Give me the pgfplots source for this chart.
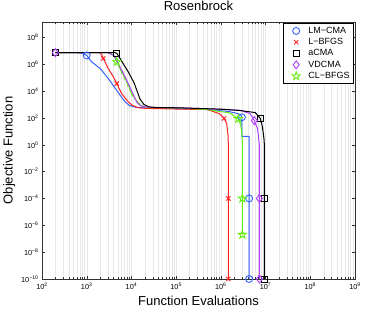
\documentclass[border=0pt]{standalone}
\usepackage{pgfplots}
\pgfplotsset{compat=1.18}
\usepackage{fontspec}
\setmainfont{Liberation Sans}
\definecolor{cblue}{HTML}{3060FF}
\definecolor{cred}{HTML}{FF2020}
\definecolor{cgreen}{HTML}{66EE11}
\definecolor{cpurple}{HTML}{B040FF}
\pgfdeclareplotmark{pentagram}{%
  \pgfpathmoveto{\pgfpointpolar{90}{\pgfplotmarksize}}%
  \pgfpathlineto{\pgfpointpolar{126}{0.40\pgfplotmarksize}}%
  \pgfpathlineto{\pgfpointpolar{162}{\pgfplotmarksize}}%
  \pgfpathlineto{\pgfpointpolar{198}{0.40\pgfplotmarksize}}%
  \pgfpathlineto{\pgfpointpolar{234}{\pgfplotmarksize}}%
  \pgfpathlineto{\pgfpointpolar{270}{0.40\pgfplotmarksize}}%
  \pgfpathlineto{\pgfpointpolar{306}{\pgfplotmarksize}}%
  \pgfpathlineto{\pgfpointpolar{342}{0.40\pgfplotmarksize}}%
  \pgfpathlineto{\pgfpointpolar{18}{\pgfplotmarksize}}%
  \pgfpathlineto{\pgfpointpolar{54}{0.40\pgfplotmarksize}}%
  \pgfpathclose\pgfusepathqstroke}

\pgfplotstableread{
x y
200 7.2e6
600 7.2e6
800 6.5e6
1000 4.5e6
1290 1.5e6
2000 4.8e5
3030 8.7e4
4700 1.1e4
7200 1580
9000 850
12500 620
2e4 560
1e5 500
5e5 420
1.5e6 300
2.4e6 210
2.8e6 160
2.95e6 112
2.95e6 4.3
4.28e6 4.3
4.28e6 1e-10
}\lmcma
\pgfplotstableread{
x y
200 7.2e6
1900 7.2e6
2150 5.5e6
2350 2.7e6
3030 4.8e5
3950 1.15e5
4700 3.6e4
6050 6500
8500 1580
10500 850
14000 580
2e4 520
1e5 460
5.1e5 420
9.5e5 200
1.18e6 93
1.35e6 38
1.45e6 4.8
1.47e6 1
1.47e6 1e-10
}\lbfgs
\pgfplotstableread{
x y
200 7.2e6
4300 7.2e6
4700 6.6e6
5560 2.7e6
8500 2.7e5
11500 4e4
15500 2600
19000 1000
24000 680
35000 590
1e5 570
1e6 450
2.7e6 355
5.9e6 250
7.6e6 93
8.5e6 22
9.2e6 3
9.4e6 1
9.4e6 1e-10
}\acma
\pgfplotstableread{
x y
200 7.2e6
3000 7.2e6
4200 4e6
5100 1.1e6
7200 1.15e5
10000 1.1e4
13200 1480
16000 800
22000 640
4e4 600
1e5 580
1e6 440
2.7e6 370
4.5e6 210
5.6e6 63
6.6e6 16
7.1e6 2
7.27e6 1
7.27e6 1e-10
}\vdcma
\pgfplotstableread{
x y
200 7.2e6
3100 7.2e6
4000 5e6
4700 1.5e6
5560 4.8e5
6100 2.2e5
6300 2.8e5
7000 8e4
7300 1.0e5
8300 2.5e4
8600 3.0e4
9300 1.1e4
10500 4500
10800 5200
12000 2700
16000 900
22000 600
1e5 560
5e5 420
1.58e6 235
2.45e6 85
2.8e6 27
3.0e6 4
3.03e6 1
3.03e6 2e-7
}\clbfgs

\begin{document}
\begin{tikzpicture}
\path[use as bounding box] (-42pt,-31pt) rectangle (323pt,279pt);
\begin{axis}[
  at={(0,0)}, anchor=south west,
  scale only axis, width=313pt, height=257pt,
  xmode=log, ymode=log,
  xmin=100, xmax=1e9, ymin=1e-10, ymax=1.4e9,
  clip=false,
  xtick={1e2,1e3,1e4,1e5,1e6,1e7,1e8,1e9},
  xticklabels={10\textsuperscript{2},10\textsuperscript{3},10\textsuperscript{4},10\textsuperscript{5},10\textsuperscript{6},10\textsuperscript{7},10\textsuperscript{8},10\textsuperscript{9}},
  minor xtick={200,300,400,500,600,700,800,900,2000,3000,4000,5000,6000,7000,8000,9000,2e4,3e4,4e4,5e4,6e4,7e4,8e4,9e4,2e5,3e5,4e5,5e5,6e5,7e5,8e5,9e5,2e6,3e6,4e6,5e6,6e6,7e6,8e6,9e6,2e7,3e7,4e7,5e7,6e7,7e7,8e7,9e7,2e8,3e8,4e8,5e8,6e8,7e8,8e8,9e8},
  ytick={1e-10,1e-8,1e-6,1e-4,1e-2,1,1e2,1e4,1e6,1e8},
  yticklabels={10\textsuperscript{−10},10\textsuperscript{−8},10\textsuperscript{−6},10\textsuperscript{−4},10\textsuperscript{−2},10\textsuperscript{0},10\textsuperscript{2},10\textsuperscript{4},10\textsuperscript{6},10\textsuperscript{8}},
  minor ytick={},
  xmajorgrids, xminorgrids,
  major grid style={black!9, line width=0.4pt},
  minor grid style={black!9, line width=0.4pt},
  tick align=inside,
  major tick length=3pt, minor tick length=2pt,
  tick style={black!80, line width=0.4pt},
  axis line style={black!80, line width=0.5pt},
  tick label style={font=\fontsize{7.3}{9}\selectfont},
  title={Rosenbrock},
  title style={font=\fontsize{13}{15}\selectfont, at={(axis description cs:0.5,1.0214)}, anchor=base},
  xlabel={Function Evaluations},
  xlabel style={font=\fontsize{13}{15}\selectfont, at={(axis description cs:0.5,-0.103)}, anchor=base},
  ylabel={Objective Function},
  ylabel style={font=\fontsize{13}{15}\selectfont, at={(axis description cs:-0.094,0.5)}, anchor=base},
  legend style={at={(axis description cs:0.9946,0.9949)}, anchor=north east, draw=black, line width=0.5pt, font=\fontsize{9}{11}\selectfont, inner sep=1.5pt, row sep=-0.5pt},
  legend cell align=left,
  legend image code/.code={\path (0cm,0cm) (0.74cm,0cm); \draw[#1] plot coordinates {(0.40cm,0cm)};},
]
\addplot[cblue, line width=1pt, forget plot] table {\lmcma};
\addplot[cred, line width=1pt, forget plot] table {\lbfgs};
\addplot[cgreen, line width=1pt, forget plot] table {\clbfgs};
\addplot[cpurple, line width=1pt, forget plot] table {\vdcma};
\addplot[black, line width=1pt, forget plot] table {\acma};

\addplot[only marks, cblue, mark=o, mark size=3.5pt, line width=0.9pt] coordinates {(1000,4.5e6) (2.95e6,112) (4.28e6,1e-4) (4.28e6,1e-10)};
\addlegendentry{LM−CMA}
\addplot[only marks, cred, mark=x, mark size=3pt, line width=0.9pt] coordinates {(2350,2.7e6) (4700,3.6e4) (1.18e6,93) (1.47e6,1e-4) (1.47e6,1e-10)};
\addlegendentry{L−BFGS}
\addplot[only marks, black, mark=square, mark size=3pt, line width=0.9pt] coordinates {(200,7.2e6) (4700,6.3e6) (7.6e6,93) (9.6e6,1e-4) (9.6e6,1e-10)};
\addlegendentry{aCMA}
\addplot[only marks, cpurple, mark=diamond, mark size=4pt, line width=0.9pt] coordinates {(200,7.2e6) (5.6e6,63) (7.27e6,1e-4) (7.27e6,1e-10)};
\addlegendentry{VDCMA}
\addplot[only marks, cgreen, mark=pentagram, mark size=4.2pt, line width=0.9pt] coordinates {(4700,1.5e6) (2.45e6,85) (3.03e6,1e-4) (3.03e6,2e-7)};
\addlegendentry{CL−BFGS}
\end{axis}
\end{tikzpicture}
\end{document}
